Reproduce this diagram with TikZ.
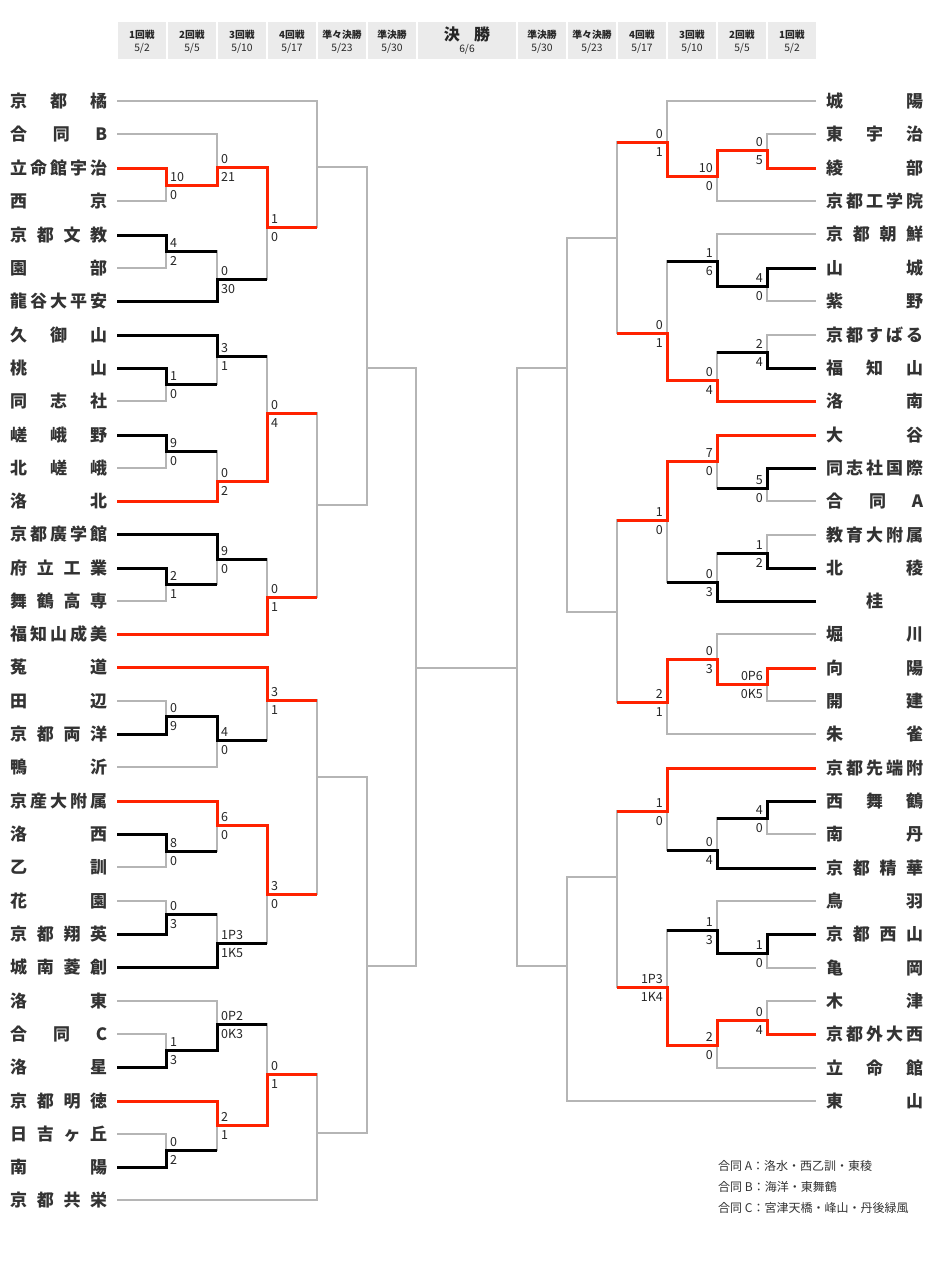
\documentclass[tikz,border=0pt]{standalone}
\usepackage{fontspec}
\setmainfont{Noto Sans CJK JP}
\definecolor{gl}{HTML}{B5B5B5}
\definecolor{rd}{HTML}{FF2200}
\definecolor{tx}{HTML}{333333}
\definecolor{hd}{HTML}{EBEBEB}
\newcommand\GB[5]{\draw[gb] (#1,#2) -- (#3,#2) -- (#3,#5) -- (#4,#5);}
\newcommand\LS[4]{\node[sc,anchor=south west] at (#1+4,#2-3) {#3};\node[sc,anchor=north west] at (#1+4,#2+5) {#4};}
\newcommand\RS[4]{\node[sc,anchor=south east] at (#1-4,#2-3) {#3};\node[sc,anchor=north east] at (#1-4,#2+5) {#4};}
\newcommand\HC[5]{\fill[hd] (#2-#5/2,22) rectangle (#2+#5/2,59);
  \node[hr] (#1r) at (#2,35) {#3}; \node[hdt] (#1d) at (#2,48) {#4};}
\newcommand\LN[3]{\node[nm,anchor=west] (#1) at (10,#2) {\makebox[97pt]{#3}};}
\newcommand\RN[3]{\node[nm,anchor=west] (#1) at (826,#2) {\makebox[97pt]{#3}};}
\begin{document}
\begin{tikzpicture}[x=1pt,y=-1pt,line join=miter,
  gb/.style={draw=gl,line width=2pt},
  rp/.style={draw=rd,line width=3pt},
  bp/.style={draw=black,line width=3pt},
  nm/.style={font=\fontsize{17}{17}\selectfont\bfseries,text=tx,inner sep=0pt},
  sc/.style={font=\fontsize{12.5}{12.5}\selectfont,text=black!85,inner sep=0pt},
  hr/.style={font=\fontsize{9.8}{9.8}\selectfont\bfseries,text=black!85,inner sep=0pt},
  hdt/.style={font=\fontsize{10.3}{10.3}\selectfont,text=black!85,inner sep=0pt},
  lg/.style={font=\fontsize{12}{12}\selectfont,text=tx,inner sep=0pt,anchor=west}]
\useasboundingbox (0,0) rectangle (933,1267);
\fill[white] (0,0) rectangle (933,1267);
% header
\HC{h1}{142}{1回戦}{5/2}{48}
\HC{h2}{192}{2回戦}{5/5}{48}
\HC{h3}{242}{3回戦}{5/10}{48}
\HC{h4}{292}{4回戦}{5/17}{48}
\HC{h5}{342}{準々決勝}{5/23}{48}
\HC{h6}{392}{準決勝}{5/30}{48}
\fill[hd] (418,22) rectangle (516,59);
\node[font=\fontsize{16}{16}\selectfont\bfseries,text=black!85,inner sep=0pt] (h7r) at (467,34) {決\hspace{0.9em}勝};
\node[hdt] (h7d) at (467,49) {6/6};
\HC{h8}{542}{準決勝}{5/30}{48}
\HC{h9}{592}{準々決勝}{5/23}{48}
\HC{h10}{642}{4回戦}{5/17}{48}
\HC{h11}{692}{3回戦}{5/10}{48}
\HC{h12}{742}{2回戦}{5/5}{48}
\HC{h13}{792}{1回戦}{5/2}{48}
% left names
\LN{L0}{101}{京\hfill 都\hfill 橘}
\LN{L1}{134}{合\hfill 同\hfill B}
\LN{L2}{168}{立\hfill 命\hfill 館\hfill 宇\hfill 治}
\LN{L3}{201}{西\hfill 京}
\LN{L4}{235}{京\hfill 都\hfill 文\hfill 教}
\LN{L5}{268}{園\hfill 部}
\LN{L6}{301}{龍\hfill 谷\hfill 大\hfill 平\hfill 安}
\LN{L7}{335}{久\hfill 御\hfill 山}
\LN{L8}{368}{桃\hfill 山}
\LN{L9}{401}{同\hfill 志\hfill 社}
\LN{L10}{435}{嵯\hfill 峨\hfill 野}
\LN{L11}{468}{北\hfill 嵯\hfill 峨}
\LN{L12}{501}{洛\hfill 北}
\LN{L13}{534}{京\hfill 都\hfill 廣\hfill 学\hfill 館}
\LN{L14}{568}{府\hfill 立\hfill 工\hfill 業}
\LN{L15}{601}{舞\hfill 鶴\hfill 高\hfill 専}
\LN{L16}{634}{福\hfill 知\hfill 山\hfill 成\hfill 美}
\LN{L17}{667}{菟\hfill 道}
\LN{L18}{701}{田\hfill 辺}
\LN{L19}{734}{京\hfill 都\hfill 両\hfill 洋}
\LN{L20}{767}{鴨\hfill 沂}
\LN{L21}{801}{京\hfill 産\hfill 大\hfill 附\hfill 属}
\LN{L22}{834}{洛\hfill 西}
\LN{L23}{867}{乙\hfill 訓}
\LN{L24}{901}{花\hfill 園}
\LN{L25}{934}{京\hfill 都\hfill 翔\hfill 英}
\LN{L26}{967}{城\hfill 南\hfill 菱\hfill 創}
\LN{L27}{1001}{洛\hfill 東}
\LN{L28}{1034}{合\hfill 同\hfill C}
\LN{L29}{1067}{洛\hfill 星}
\LN{L30}{1101}{京\hfill 都\hfill 明\hfill 徳}
\LN{L31}{1134}{日\hfill 吉\hfill ヶ\hfill 丘}
\LN{L32}{1167}{南\hfill 陽}
\LN{L33}{1200}{京\hfill 都\hfill 共\hfill 栄}
% right names
\RN{R0}{101}{城\hfill 陽}
\RN{R1}{134}{東\hfill 宇\hfill 治}
\RN{R2}{168}{綾\hfill 部}
\RN{R3}{201}{京\hfill 都\hfill 工\hfill 学\hfill 院}
\RN{R4}{234}{京\hfill 都\hfill 朝\hfill 鮮}
\RN{R5}{268}{山\hfill 城}
\RN{R6}{301}{紫\hfill 野}
\RN{R7}{335}{京\hfill 都\hfill す\hfill ば\hfill る}
\RN{R8}{368}{福\hfill 知\hfill 山}
\RN{R9}{401}{洛\hfill 南}
\RN{R10}{435}{大\hfill 谷}
\RN{R11}{468}{同\hfill 志\hfill 社\hfill 国\hfill 際}
\RN{R12}{501}{合\hfill 同\hfill A}
\RN{R13}{535}{教\hfill 育\hfill 大\hfill 附\hfill 属}
\RN{R14}{568}{北\hfill 稜}
\RN{R15}{601}{桂}
\RN{R16}{634}{堀\hfill 川}
\RN{R17}{668}{向\hfill 陽}
\RN{R18}{701}{開\hfill 建}
\RN{R19}{734}{朱\hfill 雀}
\RN{R20}{768}{京\hfill 都\hfill 先\hfill 端\hfill 附}
\RN{R21}{801}{西\hfill 舞\hfill 鶴}
\RN{R22}{834}{南\hfill 丹}
\RN{R23}{868}{京\hfill 都\hfill 精\hfill 華}
\RN{R24}{901}{鳥\hfill 羽}
\RN{R25}{934}{京\hfill 都\hfill 西\hfill 山}
\RN{R26}{968}{亀\hfill 岡}
\RN{R27}{1001}{木\hfill 津}
\RN{R28}{1034}{京\hfill 都\hfill 外\hfill 大\hfill 西}
\RN{R29}{1068}{立\hfill 命\hfill 館}
\RN{R30}{1101}{東\hfill 山}
% gray bracket, left
\GB{117}{168}{166}{117}{201}
\GB{117}{134}{217}{166}{185}
\GB{117}{235}{166}{117}{268}
\GB{166}{251}{217}{117}{301}
\GB{217}{167}{267}{217}{279}
\GB{117}{101}{317}{267}{227}
\GB{117}{368}{166}{117}{401}
\GB{117}{335}{217}{166}{384}
\GB{117}{435}{166}{117}{468}
\GB{166}{451}{217}{117}{501}
\GB{217}{356}{267}{217}{481}
\GB{117}{568}{166}{117}{601}
\GB{117}{534}{217}{166}{584}
\GB{217}{559}{267}{117}{634}
\GB{267}{413}{317}{267}{597}
\GB{317}{167}{367}{317}{505}
\GB{117}{701}{166}{117}{734}
\GB{166}{716}{217}{117}{767}
\GB{117}{667}{267}{217}{740}
\GB{117}{834}{166}{117}{867}
\GB{117}{801}{217}{166}{851}
\GB{117}{901}{166}{117}{934}
\GB{166}{914}{217}{117}{967}
\GB{217}{825}{267}{217}{943}
\GB{267}{700}{317}{267}{894}
\GB{117}{1034}{166}{117}{1067}
\GB{117}{1001}{217}{166}{1050}
\GB{117}{1134}{166}{117}{1167}
\GB{117}{1101}{217}{166}{1150}
\GB{217}{1024}{267}{217}{1125}
\GB{267}{1074}{317}{117}{1200}
\GB{317}{777}{367}{317}{1133}
\GB{367}{368}{416}{367}{966}
\draw[gb] (416,668) -- (517,668);
% gray bracket, right
\GB{816}{134}{767}{816}{168}
\GB{767}{150}{717}{816}{201}
\GB{816}{101}{667}{717}{176}
\GB{816}{268}{767}{816}{301}
\GB{816}{234}{717}{767}{286}
\GB{816}{335}{767}{816}{368}
\GB{767}{352}{717}{816}{401}
\GB{717}{261}{667}{717}{380}
\GB{667}{142}{617}{667}{333}
\GB{816}{468}{767}{816}{501}
\GB{816}{435}{717}{767}{488}
\GB{816}{535}{767}{816}{568}
\GB{767}{553}{717}{816}{601}
\GB{717}{461}{667}{717}{582}
\GB{816}{668}{767}{816}{701}
\GB{816}{634}{717}{767}{684}
\GB{717}{659}{667}{816}{734}
\GB{667}{520}{617}{667}{702}
\GB{617}{238}{567}{617}{612}
\GB{816}{801}{767}{816}{834}
\GB{767}{818}{717}{816}{868}
\GB{816}{768}{667}{717}{850}
\GB{816}{934}{767}{816}{968}
\GB{816}{901}{717}{767}{953}
\GB{816}{1001}{767}{816}{1034}
\GB{767}{1020}{717}{816}{1068}
\GB{717}{930}{667}{717}{1045}
\GB{667}{811}{617}{667}{987}
\GB{617}{877}{567}{816}{1101}
\GB{567}{368}{517}{567}{966}
% winners, left
\draw[bp] (117,235) -- (166,235) -- (166,251) -- (217,251);
\draw[bp] (117,301) -- (217,301) -- (217,279) -- (267,279);
\draw[bp] (117,335) -- (217,335) -- (217,356) -- (267,356);
\draw[bp] (117,368) -- (166,368) -- (166,384) -- (217,384);
\draw[bp] (117,435) -- (166,435) -- (166,451) -- (217,451);
\draw[bp] (117,534) -- (217,534) -- (217,559) -- (267,559);
\draw[bp] (117,568) -- (166,568) -- (166,584) -- (217,584);
\draw[bp] (117,734) -- (166,734) -- (166,716) -- (217,716) -- (217,740) -- (267,740);
\draw[bp] (117,834) -- (166,834) -- (166,851) -- (217,851);
\draw[bp] (117,934) -- (166,934) -- (166,914) -- (217,914);
\draw[bp] (117,967) -- (217,967) -- (217,943) -- (267,943);
\draw[bp] (117,1067) -- (166,1067) -- (166,1050) -- (217,1050) -- (217,1024) -- (267,1024);
\draw[bp] (117,1167) -- (166,1167) -- (166,1150) -- (217,1150);
\draw[rp] (117,168) -- (166,168) -- (166,185) -- (217,185) -- (217,167) -- (267,167) -- (267,227) -- (317,227);
\draw[rp] (117,501) -- (217,501) -- (217,481) -- (267,481) -- (267,413) -- (317,413);
\draw[rp] (117,634) -- (267,634) -- (267,597) -- (317,597);
\draw[rp] (117,667) -- (267,667) -- (267,700) -- (317,700);
\draw[rp] (117,801) -- (217,801) -- (217,825) -- (267,825) -- (267,894) -- (317,894);
\draw[rp] (117,1101) -- (217,1101) -- (217,1125) -- (267,1125) -- (267,1074) -- (317,1074);
% winners, right
\draw[bp] (816,268) -- (767,268) -- (767,286) -- (717,286) -- (717,261) -- (667,261);
\draw[bp] (816,368) -- (767,368) -- (767,352) -- (717,352);
\draw[bp] (816,468) -- (767,468) -- (767,488) -- (717,488);
\draw[bp] (816,568) -- (767,568) -- (767,553) -- (717,553);
\draw[bp] (816,601) -- (717,601) -- (717,582) -- (667,582);
\draw[bp] (816,801) -- (767,801) -- (767,818) -- (717,818);
\draw[bp] (816,868) -- (717,868) -- (717,850) -- (667,850);
\draw[bp] (816,934) -- (767,934) -- (767,953) -- (717,953) -- (717,930) -- (667,930);
\draw[rp] (816,168) -- (767,168) -- (767,150) -- (717,150) -- (717,176) -- (667,176) -- (667,142) -- (617,142);
\draw[rp] (816,401) -- (717,401) -- (717,380) -- (667,380) -- (667,333) -- (617,333);
\draw[rp] (816,435) -- (717,435) -- (717,461) -- (667,461) -- (667,520) -- (617,520);
\draw[rp] (816,668) -- (767,668) -- (767,684) -- (717,684) -- (717,659) -- (667,659) -- (667,702) -- (617,702);
\draw[rp] (816,768) -- (667,768) -- (667,811) -- (617,811);
\draw[rp] (816,1034) -- (767,1034) -- (767,1020) -- (717,1020) -- (717,1045) -- (667,1045) -- (667,987) -- (617,987);
% scores, left
\LS{166}{185}{10}{0}
\LS{217}{167}{0}{21}
\LS{166}{251}{4}{2}
\LS{217}{279}{0}{30}
\LS{267}{227}{1}{0}
\LS{166}{384}{1}{0}
\LS{217}{356}{3}{1}
\LS{166}{451}{9}{0}
\LS{217}{481}{0}{2}
\LS{267}{413}{0}{4}
\LS{166}{584}{2}{1}
\LS{217}{559}{9}{0}
\LS{267}{597}{0}{1}
\LS{166}{716}{0}{9}
\LS{217}{740}{4}{0}
\LS{267}{700}{3}{1}
\LS{166}{851}{8}{0}
\LS{217}{825}{6}{0}
\LS{166}{914}{0}{3}
\LS{217}{943}{1P3}{1K5}
\LS{267}{894}{3}{0}
\LS{166}{1050}{1}{3}
\LS{217}{1024}{0P2}{0K3}
\LS{166}{1150}{0}{2}
\LS{217}{1125}{2}{1}
\LS{267}{1074}{0}{1}
% scores, right
\RS{767}{150}{0}{5}
\RS{717}{176}{10}{0}
\RS{667}{142}{0}{1}
\RS{767}{286}{4}{0}
\RS{717}{261}{1}{6}
\RS{767}{352}{2}{4}
\RS{717}{380}{0}{4}
\RS{667}{333}{0}{1}
\RS{767}{488}{5}{0}
\RS{717}{461}{7}{0}
\RS{767}{553}{1}{2}
\RS{717}{582}{0}{3}
\RS{667}{520}{1}{0}
\RS{767}{684}{0P6}{0K5}
\RS{717}{659}{0}{3}
\RS{667}{702}{2}{1}
\RS{767}{818}{4}{0}
\RS{717}{850}{0}{4}
\RS{667}{811}{1}{0}
\RS{767}{953}{1}{0}
\RS{717}{930}{1}{3}
\RS{767}{1020}{0}{4}
\RS{717}{1045}{2}{0}
\RS{667}{987}{1P3}{1K4}
% legend
\node[lg] (lgA) at (718,1166) {合同 A：洛水・西乙訓・東稜};
\node[lg] (lgB) at (718,1187) {合同 B：海洋・東舞鶴};
\node[lg] (lgC) at (718,1208) {合同 C：宮津天橋・峰山・丹後緑風};
\end{tikzpicture}
\end{document}
